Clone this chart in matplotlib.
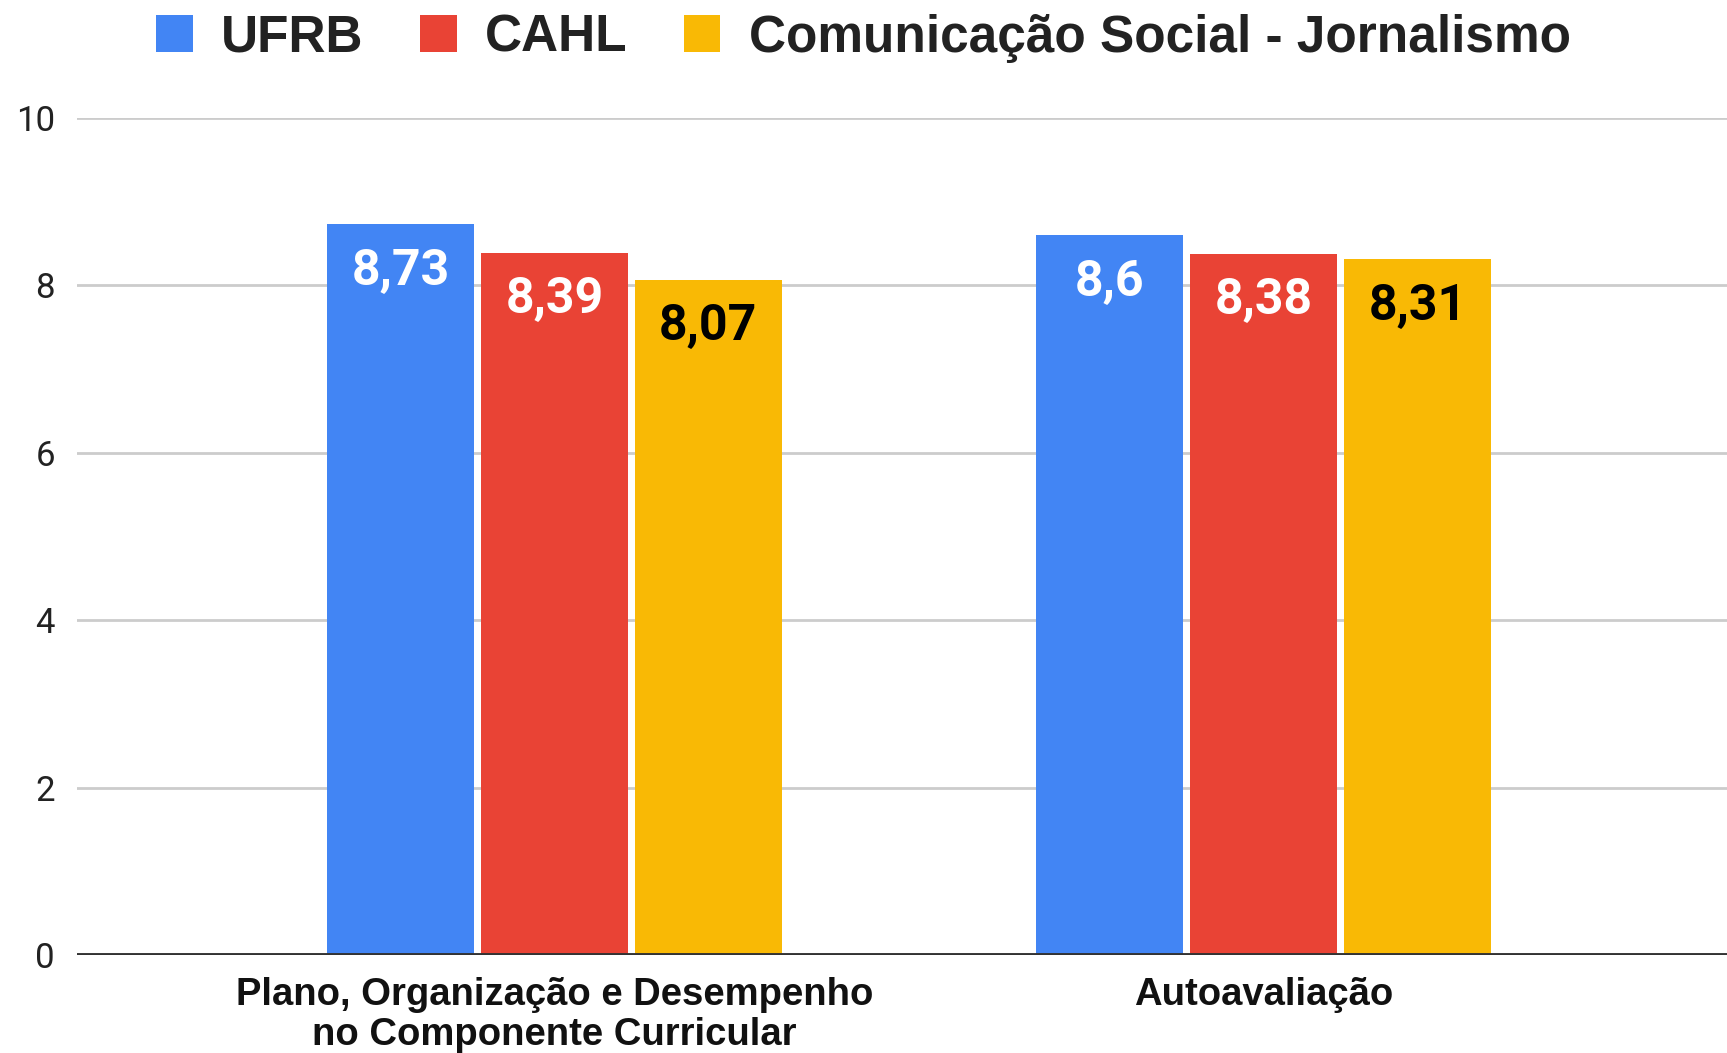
import numpy as np
import matplotlib.pyplot as plt
from matplotlib.patches import Patch

plt.rcParams['font.family'] = ['Roboto', 'DejaVu Sans']
arial = ['Liberation Sans', 'DejaVu Sans']

categorias = ['Plano, Organização e Desempenho\nno Componente Curricular', 'Autoavaliação']
series = ['UFRB', 'CAHL', 'Comunicação Social - Jornalismo']
ufrb = [8.73, 8.6]
cahl = [8.39, 8.38]
jornalismo = [8.07, 8.31]
rotulos = [['8,73', '8,6'], ['8,39', '8,38'], ['8,07', '8,31']]

cores = ['#4285F4', '#E94335', '#F9B905']
cor_texto = ['white', 'white', 'black']

W, H = 1727, 1053
fig = plt.figure(figsize=(W / 100, H / 100), dpi=100)
ax = fig.add_axes([77 / W, (H - 955) / H, (W - 77) / W, (955 - 118) / H])

x = np.arange(len(categorias))
larg = 0.207
passo = 0.217
for i, vals in enumerate([ufrb, cahl, jornalismo]):
    pos = x + (i - 1) * passo
    ax.bar(pos, vals, width=larg, color=cores[i], zorder=3)
    for px, v, lab in zip(pos, vals, rotulos[i]):
        ax.annotate(lab, xy=(px, v), xytext=(0, -34), textcoords='offset points',
                    ha='center', va='center', fontsize=36, fontweight='bold',
                    color=cor_texto[i], zorder=4)

ax.set_xlim(-0.673, 1.653)
ax.set_ylim(0, 10)
ax.set_yticks([0, 2, 4, 6, 8, 10])
ax.yaxis.grid(True, color='#cccccc', linewidth=2, zorder=0)
ax.axhline(0, color='#333333', linewidth=2.8, zorder=5)
ax.set_xticks(x)
ax.set_xticklabels(categorias, fontsize=27.5, fontweight='bold', color='#111111',
                   linespacing=1.13, family=arial)
ax.tick_params(axis='x', length=0, pad=16)
ax.tick_params(axis='y', length=0, pad=16, labelsize=25, labelcolor='#222222')
for s in ax.spines.values():
    s.set_visible(False)

handles = [Patch(facecolor=c, edgecolor='none') for c in cores]
leg = fig.legend(handles, series, loc='center', bbox_to_anchor=(0.5, 1 - 38 / H),
                 ncol=3, frameon=False, handlelength=0.71, handleheight=0.71,
                 handletextpad=0.55, columnspacing=1.1,
                 prop={'size': 37, 'weight': 'bold', 'family': arial})
for t in leg.get_texts():
    t.set_color('#222222')

fig.savefig('out.png', dpi=100)
